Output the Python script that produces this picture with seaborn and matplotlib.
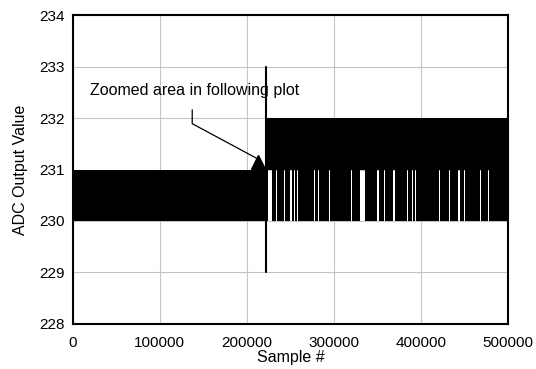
import numpy as np
import matplotlib
matplotlib.use("Agg")
import matplotlib.pyplot as plt
import seaborn as sns

# step position (sample # where the output moves up one code)
step_sample = 222000
n_samples = 500000

# levels before / after the step
before_low, before_high = 230, 231
after_low, after_high = 230, 232

# sample ranges after the step where the output never fell to 230 (white gaps)
gap_start = [224300, 233400, 242500, 250100, 254500, 258000, 277200, 282100,
             294400, 320000, 326000, 330000, 349200, 357700, 368200, 375400,
             384300, 390000, 393500, 421000, 424800, 432500, 442600, 449700,
             467700, 477300]
gap_width = [4600, 1000, 1000, 2300, 1100, 1100, 600, 1000,
             600, 1000, 500, 5700, 3000, 500, 2000, 1000,
             1000, 1000, 1000, 1000, 1000, 1000, 2600, 1000,
             1000, 1000]

# annotation
note_text = "Zoomed area in following plot"
note_xy = (19450, 232.53)
arrow_x = [137300, 137300, 211000]
arrow_y = [232.16, 231.89, 231.22]
arrow_head = (212300, 231.14)

x_ticks = [0, 100000, 200000, 300000, 400000, 500000]
y_ticks = [228, 229, 230, 231, 232, 233, 234]

sns.set_theme(style="white")
plt.rcParams["font.family"] = ["Liberation Sans", "DejaVu Sans"]

fig = plt.figure(figsize=(5.36, 3.69), dpi=100)
ax = fig.add_axes([0.1356, 0.122, 0.8122, 0.8373])

ax.set_xlim(0, n_samples)
ax.set_ylim(228, 234)
ax.set_xticks(x_ticks)
ax.set_yticks(y_ticks)
ax.set_xticklabels([str(t) for t in x_ticks])
ax.grid(True, color="#c4c4c4", linewidth=0.8, zorder=0)
ax.set_axisbelow(True)

# before the step: toggling 230/231
ax.fill_between([0, step_sample], before_low, before_high, color="black",
                linewidth=0, zorder=2)
# after the step: 231/232 toggling
ax.fill_between([step_sample, n_samples], after_high - 1, after_high,
                color="black", linewidth=0, zorder=2)
# after the step: lower code visits, broken by gaps
segs = []
pos = step_sample
for s, w in zip(gap_start, gap_width):
    segs.append((pos, s - pos))
    pos = s + w
segs.append((pos, n_samples - pos))
ax.broken_barh(segs, (after_low, 1), facecolors="black", linewidth=0, zorder=2)

# step marker line
sns.lineplot(x=[step_sample, step_sample], y=[229, 233], sort=False,
             estimator=None, color="black", linewidth=1.5, ax=ax, zorder=3)

# annotation arrow
ax.plot(arrow_x, arrow_y, color="black", linewidth=0.9, zorder=3)
ax.plot([arrow_head[0]], [arrow_head[1]], marker="^", markersize=10,
        color="black", zorder=3)
ax.text(note_xy[0], note_xy[1], note_text, fontsize=11.5, va="center",
        ha="left", color="black", zorder=4)

for sp in ax.spines.values():
    sp.set_color("black")
    sp.set_linewidth(1.5)
ax.tick_params(axis="both", labelsize=11, colors="black", length=3,
               width=1, direction="out", pad=3)
ax.tick_params(axis="x", pad=6)
ax.set_xlabel("Sample #", fontsize=11.5, color="black", labelpad=0)
ax.set_ylabel("ADC Output Value", fontsize=11.5, color="black", labelpad=8)

fig.savefig("out.png", dpi=100)
